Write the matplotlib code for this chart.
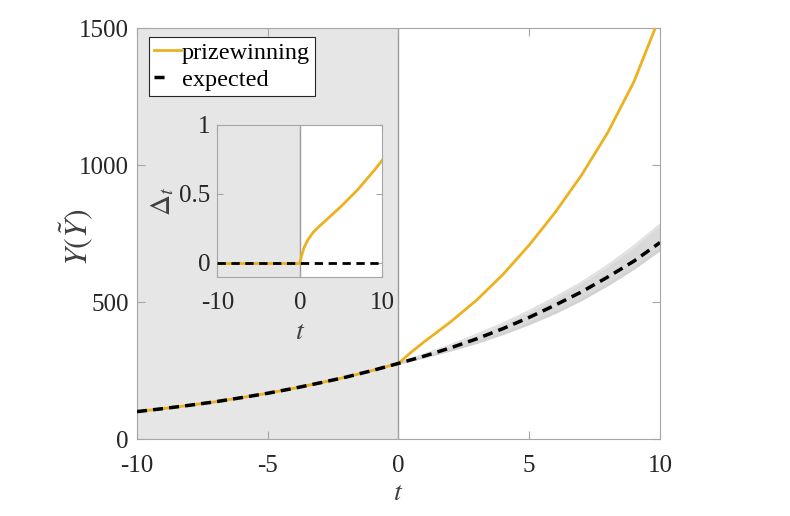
import matplotlib
matplotlib.use("Agg")
import matplotlib.pyplot as plt
from matplotlib.lines import Line2D

plt.rcParams['font.family'] = ['Liberation Serif', 'DejaVu Serif']
plt.rcParams['mathtext.fontset'] = 'stix'

# ---- data ----
t_pre = [-10, -9, -8, -7, -6, -5, -4, -3, -2, -1, 0]
y_pre = [100, 111, 123, 136, 151, 167, 185, 205, 226, 250, 276]

t_prize = [0, 0.5, 1, 1.5, 2, 3, 4, 5, 6, 7, 8, 9, 10]
prize_post = [276, 318, 356, 392, 428, 508, 601, 708, 828, 963, 1118, 1303, 1543]

t_post = [0, 1, 2, 3, 4, 5, 6, 7, 8, 9, 10]
expected_post = [276, 303, 333, 366, 403, 444, 489, 537, 591, 649, 717]
band_upper = [276, 308, 342, 380, 421, 466, 516, 570, 632, 702, 781]
band_lower = [276, 299, 324, 352, 384, 420, 461, 508, 562, 622, 690]

inset_t_pre = [-10, 0]
inset_d_pre = [0, 0]
inset_t_post = [0, 0.2, 0.5, 1, 1.6, 2, 3, 4, 5, 6, 7, 8, 9, 10]
inset_d_post = [0, 0.05, 0.11, 0.17, 0.22, 0.245, 0.30, 0.355, 0.41, 0.47, 0.53, 0.60, 0.67, 0.745]

main_xticks = [-10, -5, 0, 5, 10]
main_yticks = [0, 500, 1000, 1500]
inset_xticks = [-10, 0, 10]
inset_yticks = [0, 0.5, 1]
legend_labels = ['prizewinning', 'expected']

ORANGE = '#EDB120'
SHADE = '#e6e6e6'
SPINE = '#a6a6a6'
TXT = '#262626'
FS = 18

fig = plt.figure(figsize=(7.9, 5.16), dpi=100)
ax = fig.add_axes([0.1734, 0.1492, 0.662, 0.7965])

ax.axvspan(-10, 0, color=SHADE, lw=0, zorder=0)
ax.axvline(0, color='#9a9a9a', lw=1.0, zorder=1)

ax.fill_between(t_post, band_lower, band_upper, color='#d9d9d9', lw=0, zorder=2)
ax.plot(t_post, band_upper, color='#e2e2e2', lw=2, zorder=2)
ax.plot(t_post, band_lower, color='#d2d2d2', lw=2, zorder=2)

ax.plot(t_pre + t_prize[1:], y_pre + prize_post[1:], color=ORANGE, lw=2, zorder=3)
ax.plot(t_pre + t_post[1:], y_pre + expected_post[1:], color='black', lw=2.5,
        dashes=(2.9, 1.75), zorder=4)

ax.set_xlim(-10, 10)
ax.set_ylim(0, 1500)
ax.set_xticks(main_xticks)
ax.set_xticklabels([str(v) for v in main_xticks])
ax.set_yticks(main_yticks)
ax.tick_params(direction='in', length=6, width=0.8, color=SPINE, labelsize=FS,
               labelcolor=TXT, top=True, right=True, pad=6)
ax.tick_params(axis='x', pad=11.5)
for s in ax.spines.values():
    s.set_color(SPINE)
    s.set_linewidth(0.8)
ax.set_xlabel('$t$', fontsize=FS + 2, color='#404040', labelpad=3)
ax.set_ylabel(r'$Y(\tilde{Y})$', fontsize=23, color='#404040')
ax.yaxis.set_label_coords(-0.078, 0.49)

handles = [Line2D([], [], color=ORANGE, lw=2),
           Line2D([], [], color='black', lw=2.5, dashes=(2.9, 10))]
leg = ax.legend(handles, legend_labels, loc='upper left',
                bbox_to_anchor=(0.0229, 0.978), borderaxespad=0,
                fontsize=17.5, frameon=True, fancybox=False,
                handlelength=1.1, handletextpad=0.05, borderpad=0.2,
                labelspacing=0.2)
leg.get_frame().set_edgecolor('#262626')
leg.get_frame().set_linewidth(0.8)
leg.get_frame().set_alpha(1)

# ---- inset ----
ins = fig.add_axes([0.2751, 0.4638, 0.2089, 0.294])
ins.set_facecolor('white')
ins.axvspan(-10, 0, color=SHADE, lw=0, zorder=0)
ins.axvline(0, color='#9a9a9a', lw=1.0, zorder=1)
ins.plot(inset_t_pre, inset_d_pre, color=ORANGE, lw=2, zorder=3)
ins.plot(inset_t_post, inset_d_post, color=ORANGE, lw=2, zorder=3)
ins.plot([-10, 10], [0, 0], color='black', lw=2, dashes=(3.0, 2.0), zorder=4)
ins.set_xlim(-10, 10)
ins.set_ylim(-0.1, 1)
ins.set_xticks(inset_xticks)
ins.set_xticklabels([str(v) for v in inset_xticks])
ins.set_yticks(inset_yticks)
ins.set_yticklabels(['0', '0.5', '1'])
ins.tick_params(direction='in', length=4, width=0.8, color=SPINE, labelsize=FS,
                labelcolor=TXT, top=True, right=True, pad=5)
ins.tick_params(axis='x', pad=11)
for s in ins.spines.values():
    s.set_color(SPINE)
    s.set_linewidth(0.8)
ins.set_xlabel('$t$', fontsize=FS + 2, color='#404040', labelpad=4)
ins.set_ylabel(r'$\Delta_t$', fontsize=FS + 3, color='#404040', labelpad=2)

fig.savefig('out.png', dpi=100)
